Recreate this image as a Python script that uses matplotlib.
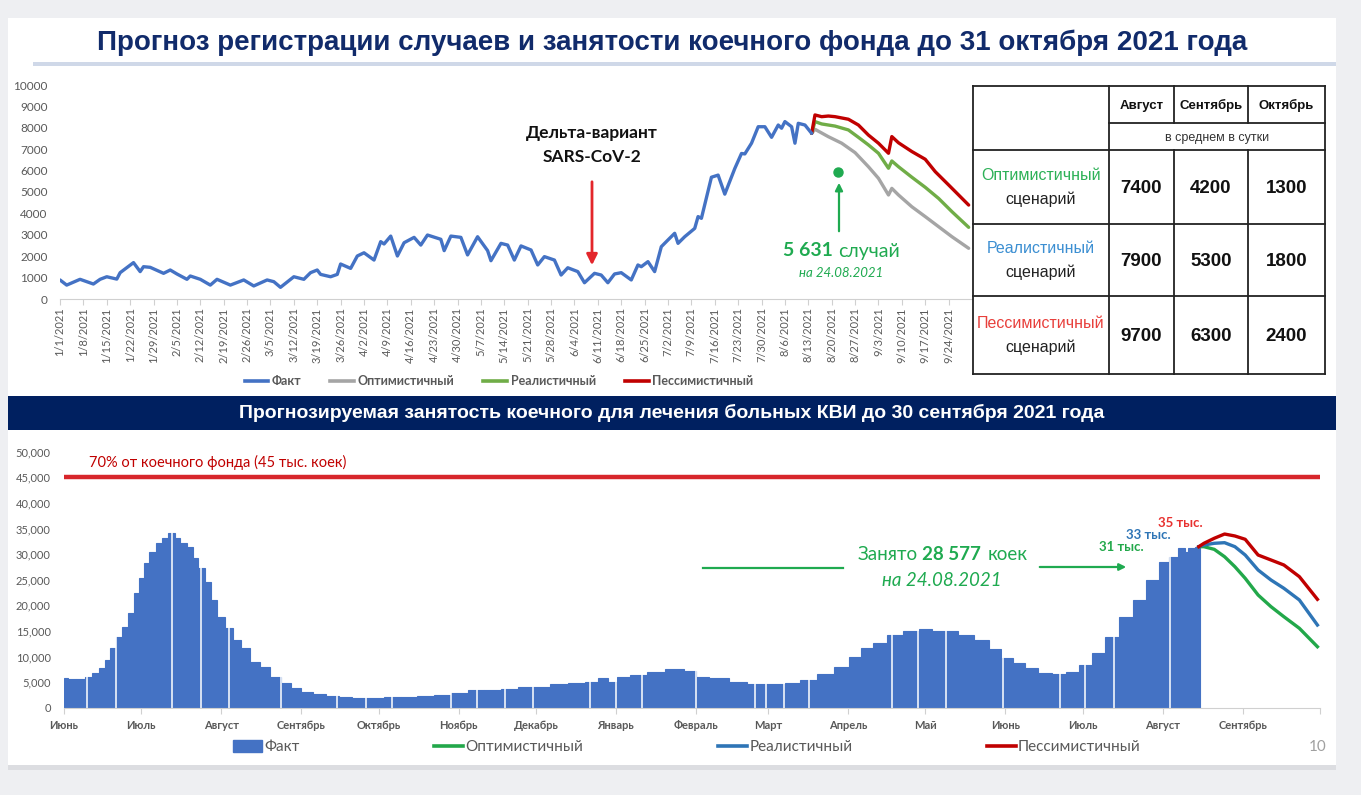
import matplotlib
matplotlib.use('Agg')
import matplotlib.pyplot as plt
from matplotlib.patches import Rectangle, Patch
from matplotlib.lines import Line2D
from matplotlib.ticker import FuncFormatter
import numpy as np
import pandas as pd

W, H = 1361, 795

# ---------- верхний график: выявлено случаев в сутки (день 0 = 1 января 2021) ----------
top_start = pd.Timestamp('2021-01-01')
top_fact = [(0, 890), (2, 650), (6, 920), (8, 810), (10, 700), (12, 920), (14, 1040), (17, 930),
            (18, 1230), (22, 1700), (24, 1280), (25, 1510), (27, 1480), (31, 1200), (33, 1355),
            (35, 1170), (38, 920), (39, 1075), (42, 920), (45, 650), (47, 920), (51, 650), (55, 890),
            (58, 610), (62, 890), (64, 810), (66, 545), (70, 1040), (73, 920), (75, 1230), (77, 1355),
            (78, 1150), (81, 1040), (83, 1150), (84, 1635), (87, 1430), (89, 2010), (91, 2160),
            (94, 1820), (96, 2680), (97, 2570), (99, 2940), (101, 2010), (103, 2630), (106, 2880),
            (108, 2520), (110, 2990), (114, 2790), (115, 2260), (117, 2940), (120, 2880), (122, 2060),
            (125, 2910), (128, 2260), (129, 1790), (132, 2600), (134, 2520), (136, 1820), (138, 2480),
            (141, 2290), (143, 1590), (145, 1980), (148, 1820), (150, 1120), (152, 1460), (155, 1280),
            (157, 760), (160, 1200), (162, 1120), (164, 760), (166, 1170), (168, 1230), (171, 890),
            (173, 1590), (174, 1510), (176, 1745), (178, 1280), (180, 2445), (182, 2760), (184, 3070),
            (185, 2600), (187, 2910), (190, 3300), (191, 3850), (192, 3770), (195, 5690), (197, 5790),
            (199, 4900), (202, 6100), (204, 6800), (205, 6780), (207, 7280), (209, 8050), (211, 8050),
            (213, 7555), (215, 8130), (216, 7980), (217, 8290), (219, 8050), (220, 7280), (221, 8210),
            (223, 8130), (225, 7740)]
top_opt = [(225, 7740), (226, 7930), (230, 7585), (234, 7280), (238, 6840), (242, 6180), (245, 5640),
           (248, 4860), (249, 5170), (251, 4860), (255, 4310), (259, 3850), (263, 3380), (267, 2910),
           (272, 2370)]
top_real = [(225, 7740), (226, 8290), (228, 8180), (230, 8130), (232, 8080), (236, 7900), (239, 7555),
            (242, 7200), (245, 6810), (248, 6110), (249, 6450), (251, 6180), (255, 5690), (259, 5220),
            (263, 4700), (267, 4080), (272, 3350)]
top_pess = [(225, 7740), (226, 8600), (228, 8520), (230, 8550), (232, 8520), (236, 8400), (239, 8130),
            (242, 7660), (245, 7280), (248, 6810), (249, 7590), (251, 7300), (255, 6890), (259, 6530),
            (262, 5950), (266, 5330), (272, 4390)]
cases_mark = (233, 5950)
cases_text = '5 631'
cases_date = 'на 24.08.2021'

# таблица
tbl_months = ['Август', 'Сентябрь', 'Октябрь']
tbl_scen = ['Оптимистичный', 'Реалистичный', 'Пессимистичный']
tbl_colors = ['#2DB157', '#3C8FD2', '#E8403C']
tbl_vals = [[7400, 4200, 1300],
            [7900, 5300, 1800],
            [9700, 6300, 2400]]

# ---------- нижний график: занятые койки (день 0 = 1 июня 2020) ----------
bot_start = pd.Timestamp('2020-06-01')
bot_fact = [(0, 5740), (3, 5670), (6, 5540), (10, 6050), (12, 6700), (15, 7690), (17, 9320), (19, 11600),
            (21, 13870), (24, 15820), (26, 18430), (28, 22340), (30, 25270), (32, 28200), (34, 30470),
            (37, 32110), (39, 33090), (42, 34180), (44, 33090), (46, 32230), (49, 31450), (51, 29180),
            (53, 27230), (56, 24610), (58, 21040), (61, 17770), (64, 15510), (67, 13220), (70, 11600),
            (74, 8980), (78, 8010), (82, 6050), (86, 4760), (90, 3780), (94, 3130), (99, 2680),
            (104, 2340), (109, 2030), (114, 1890), (121, 1820), (127, 2030), (134, 2150), (140, 2290),
            (147, 2420), (153, 2930), (160, 3460), (166, 3460), (173, 3590), (179, 4100), (185, 4100),
            (192, 4630), (199, 4880), (205, 5080), (209, 5740), (213, 5080), (216, 5940), (223, 6330),
            (229, 7030), (237, 7500), (244, 7230), (246, 6050), (254, 5740), (262, 4960), (268, 4570),
            (277, 4570), (282, 4760), (289, 5410), (295, 6580), (302, 8010), (307, 9960), (311, 11600),
            (316, 12580), (322, 14200), (329, 14980), (334, 15310), (339, 14980), (343, 14980),
            (350, 14200), (356, 13220), (361, 11400), (366, 9800), (370, 8670), (375, 7690), (380, 6840),
            (386, 6580), (391, 7030), (396, 8340), (401, 10620), (406, 13870), (412, 17770), (417, 21040),
            (422, 24940), (427, 28520), (430, 29490), (434, 31130), (435, 30470), (437, 31130),
            (440, 31450)]
bot_gaps = [9, 20, 42, 53, 64, 84, 106, 117, 127, 150, 160, 171, 182, 204, 214, 224, 245, 268, 272,
            279, 289, 321, 331, 342, 364, 386, 396, 407, 429]
bot_opt = [(440, 31450), (442, 31450), (446, 30930), (450, 29490), (454, 27540), (458, 25270),
           (463, 22010), (468, 19730), (473, 17770), (479, 15510), (486, 11910)]
bot_real = [(440, 31450), (442, 31780), (446, 32110), (450, 32230), (454, 31450), (458, 29820),
            (463, 26890), (468, 24940), (473, 23320), (479, 21040), (486, 16150)]
bot_pess = [(440, 31450), (442, 32110), (446, 33090), (450, 33920), (454, 33540), (458, 32890),
            (463, 29820), (468, 28850), (473, 27870), (479, 25590), (486, 21170)]
bed_limit = 45000
month_names = ['Июнь', 'Июль', 'Август', 'Сентябрь', 'Октябрь', 'Ноябрь', 'Декабрь', 'Январь',
               'Февраль', 'Март', 'Апрель', 'Май', 'Июнь', 'Июль', 'Август', 'Сентябрь']
peak_labels = [('31 тыс.', '#22A84A'), ('33 тыс.', '#2E75B6'), ('35 тыс.', '#E8312F')]

C_FACT = '#4472C4'
GREY_TXT = '#595959'

plt.rcParams['font.family'] = ['Lato', 'DejaVu Sans']


def box(l, t, r, b):
    return [l / W, 1 - b / H, (r - l) / W, (b - t) / H]


fig = plt.figure(figsize=(W / 100, H / 100), dpi=100, facecolor='#EEEFF2')

# фон слайда
bg = fig.add_axes([0, 0, 1, 1], zorder=-5)
bg.set_xlim(0, W)
bg.set_ylim(H, 0)
bg.axis('off')
bg.add_patch(Rectangle((8, 18), 1328, 749, color='white', lw=0))
bg.add_patch(Rectangle((8, 765), 1328, 5, color='#DCDDE1', lw=0))
bg.add_patch(Rectangle((33, 62), 1303, 4, color='#CFD8E8', lw=0))
bg.add_patch(Rectangle((8, 396), 1328, 34, color='#002060', lw=0))

# ---------- верхний график ----------
ax1 = fig.add_axes(box(60, 85, 972, 299))
for pts, col in [(top_opt, '#A5A5A5'), (top_real, '#70AD47'), (top_pess, '#C00000'), (top_fact, C_FACT)]:
    d, v = zip(*pts)
    ax1.plot(d, v, color=col, lw=2.4, solid_joinstyle='round', solid_capstyle='round')
ax1.plot(*cases_mark, 'o', color='#1FAA50', ms=6.5, zorder=5)
ax1.set_xlim(0, 273)
ax1.set_ylim(0, 10000)
ax1.set_yticks(range(0, 10001, 1000))
wk = list(range(0, 267, 7))
ax1.set_xticks(wk)
lab = []
for d in wk:
    t = top_start + pd.Timedelta(days=d)
    lab.append(f'{t.month}/{t.day}/{t.year}')
ax1.set_xticklabels(lab, rotation=90)
ax1.tick_params(axis='x', length=4, color='#D0D0D0', labelsize=8, labelcolor=GREY_TXT, pad=2)
ax1.tick_params(axis='y', length=0, labelsize=8.5, labelcolor=GREY_TXT, pad=9)
for s in ['left', 'right', 'top']:
    ax1.spines[s].set_visible(False)
ax1.spines['bottom'].set_color('#D0D0D0')

leg1 = [Line2D([], [], color=C_FACT, lw=2.6), Line2D([], [], color='#A5A5A5', lw=2.6),
        Line2D([], [], color='#70AD47', lw=2.6), Line2D([], [], color='#C00000', lw=2.6)]
l1 = fig.legend(leg1, ['Факт', 'Оптимистичный', 'Реалистичный', 'Пессимистичный'], ncol=4,
                loc='center', bbox_to_anchor=(499 / W, 1 - 381 / H), frameon=False,
                prop={'weight': 'bold', 'size': 9}, handlelength=1.9, handletextpad=0.3,
                columnspacing=2.3)
for t in l1.get_texts():
    t.set_color(GREY_TXT)

# ---------- нижний график ----------
ax2 = fig.add_axes(box(64, 451.7, 1320, 707.7))
bd, bv = zip(*bot_fact)
bd = np.array(bd, dtype=float)
edges = np.concatenate([[bd[0]], (bd[:-1] + bd[1:]) / 2, [bd[-1] + 0.5]])
ax2.bar(edges[:-1], bv, width=np.diff(edges), align='edge', color=C_FACT, edgecolor=C_FACT,
        lw=0.8, zorder=2)
ax2.vlines(bot_gaps, 0, 36000, colors='white', lw=1.1, zorder=2.5)
for pts, col in [(bot_opt, '#22A84A'), (bot_real, '#2E75B6'), (bot_pess, '#C00000')]:
    d, v = zip(*pts)
    ax2.plot(d, v, color=col, lw=2.4, zorder=4, solid_joinstyle='round')
ax2.axhline(bed_limit, color='#D7262B', lw=3.2, zorder=3)
ax2.set_xlim(0, 486)
ax2.set_ylim(0, 50000)
ax2.set_yticks(range(0, 50001, 5000))
ax2.yaxis.set_major_formatter(FuncFormatter(lambda v, p: f'{v:,.0f}'))
mstarts = pd.date_range(bot_start, '2021-10-01', freq='MS')
mdays = [(m - bot_start).days for m in mstarts]
ax2.set_xticks(mdays)
ax2.set_xticklabels(month_names + [''])
ax2.tick_params(axis='x', length=4, color='#D0D0D0', labelsize=8, labelcolor=GREY_TXT, pad=5)
for t in ax2.get_xticklabels():
    t.set_fontweight('bold')
ax2.tick_params(axis='y', length=0, labelsize=8, labelcolor=GREY_TXT, pad=9.5)
for s in ['left', 'right', 'top']:
    ax2.spines[s].set_visible(False)
ax2.spines['bottom'].set_color('#D0D0D0')

leg2 = [Patch(color=C_FACT), Line2D([], [], color='#22A84A', lw=2.6),
        Line2D([], [], color='#2E75B6', lw=2.6), Line2D([], [], color='#C00000', lw=2.6)]
l2 = fig.legend(leg2, ['Факт', 'Оптимистичный', 'Реалистичный', 'Пессимистичный'], ncol=4,
                loc='center', bbox_to_anchor=(687 / W, 1 - 747 / H), frameon=False,
                prop={'size': 11}, handlelength=1.9, handletextpad=0.15, columnspacing=8.8,
                handleheight=0.8)
for t in l2.get_texts():
    t.set_color(GREY_TXT)

# ---------- надписи, таблица ----------
ov = fig.add_axes([0, 0, 1, 1])
ov.set_xlim(0, W)
ov.set_ylim(H, 0)
ov.axis('off')
ov.patch.set_alpha(0)

ov.text(672, 43, 'Прогноз регистрации случаев и занятости коечного фонда до 31 октября 2021 года',
        ha='center', va='center', fontsize=20, fontweight='bold', color='#112B6B',
        family='Liberation Sans')
ov.text(672, 413, 'Прогнозируемая занятость коечного для лечения больных КВИ до 30 сентября 2021 года',
        ha='center', va='center', fontsize=14, fontweight='bold', color='white',
        family='Liberation Sans')

# дельта-вариант
ov.text(592, 133, 'Дельта-вариант', ha='center', va='center', fontsize=12.5, fontweight='bold', color='#111')
ov.text(592, 157, 'SARS-CoV-2', ha='center', va='center', fontsize=12.5, fontweight='bold', color='#111')
ov.annotate('', xy=(592, 268), xytext=(592, 179),
            arrowprops=dict(arrowstyle='-|>', color='#E3262B', lw=2, mutation_scale=16))
# 5 631 случай
G = '#1FAA50'
ov.annotate('', xy=(839, 180), xytext=(839, 234),
            arrowprops=dict(arrowstyle='-|>', color=G, lw=1.6, mutation_scale=11))
ov.text(833, 251, cases_text, ha='right', va='center', fontsize=14, fontweight='bold', color=G)
ov.text(838, 251, 'случай', ha='left', va='center', fontsize=14, color=G)
ov.text(841, 273, cases_date, ha='center', va='center', fontsize=9.5, style='italic', color=G)

# таблица
xs = [973, 1109, 1174, 1248, 1325]
ys = [86, 123, 150, 224, 296, 374]
LC = '#222222'
ov.plot([xs[0], xs[-1]], [ys[0], ys[0]], color=LC, lw=1.3)
ov.plot([xs[1], xs[-1]], [ys[1], ys[1]], color=LC, lw=1.3)
for y in ys[2:]:
    ov.plot([xs[0], xs[-1]], [y, y], color=LC, lw=1.3)
for x in [xs[0], xs[1], xs[-1]]:
    ov.plot([x, x], [ys[0], ys[-1]], color=LC, lw=1.3)
for x in xs[2:4]:
    ov.plot([x, x], [ys[0], ys[1]], color=LC, lw=1.3)
    ov.plot([x, x], [ys[2], ys[-1]], color=LC, lw=1.3)
for j, m in enumerate(tbl_months):
    ov.text((xs[j + 1] + xs[j + 2]) / 2, (ys[0] + ys[1]) / 2 + 1, m, ha='center', va='center',
            fontsize=9.5, fontweight='bold', color='#111', family='Liberation Sans')
ov.text((xs[1] + xs[-1]) / 2, (ys[1] + ys[2]) / 2 + 1, 'в среднем в сутки', ha='center', va='center',
        fontsize=9, color='#333', family='Liberation Sans')
for i, sc in enumerate(tbl_scen):
    yc = (ys[i + 2] + ys[i + 3]) / 2
    ov.text((xs[0] + xs[1]) / 2, yc - 11.5, sc, ha='center', va='center', fontsize=11.5,
            color=tbl_colors[i], family='Liberation Sans')
    ov.text((xs[0] + xs[1]) / 2, yc + 12, 'сценарий', ha='center', va='center', fontsize=11.5,
            color='#222', family='Liberation Sans')
    for j in range(3):
        ov.text((xs[j + 1] + xs[j + 2]) / 2, yc + 1.5, str(tbl_vals[i][j]), ha='center', va='center',
                fontsize=13.5, fontweight='bold', color='#111', family='Liberation Sans')

# нижние подписи
ov.text(89, 462, '70% от коечного фонда (45 тыс. коек)', ha='left', va='center', fontsize=10.5,
        color='#C00000')
ov.plot([703, 843], [568, 568], color=G, lw=1.6)
ov.annotate('', xy=(1129, 567), xytext=(1037, 567),
            arrowprops=dict(arrowstyle='-|>', color=G, lw=1.6, mutation_scale=10))
ov.text(918, 555, 'Занято', ha='right', va='center', fontsize=13.5, color=G)
ov.text(922, 555, '28 577', ha='left', va='center', fontsize=13.5, fontweight='bold', color=G)
ov.text(988, 555, 'коек', ha='left', va='center', fontsize=13.5, color=G)
ov.text(942, 581, 'на 24.08.2021', ha='center', va='center', fontsize=13.5, style='italic', color=G)
for (txt, col), (x, y) in zip(peak_labels, [(1121, 547), (1148, 535), (1180, 523)]):
    ov.text(x, y, txt, ha='center', va='center', fontsize=9.5, fontweight='bold', color=col)
ov.text(1318, 747, '10', ha='center', va='center', fontsize=11, color='#A0A0A0')

fig.savefig('out.png', dpi=100, facecolor=fig.get_facecolor())
